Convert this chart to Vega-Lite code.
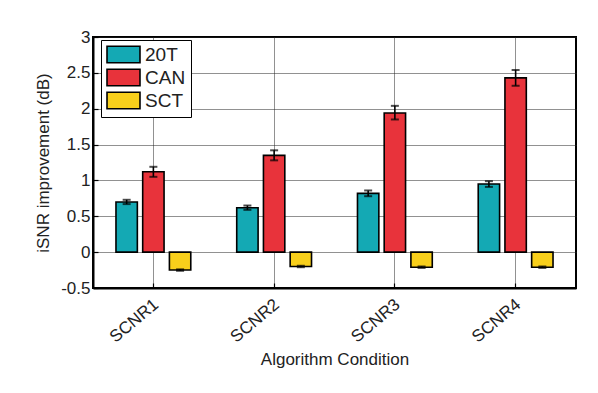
{
  "$schema": "https://vega.github.io/schema/vega-lite/v6.json",
  "autosize": "none",
  "width": 483,
  "height": 251,
  "padding": {"left": 93, "top": 37, "right": 22, "bottom": 105},
  "background": "white",
  "config": {
    "font": "Liberation Sans",
    "view": {"stroke": "black", "strokeWidth": 2},
    "axis": {
      "domainColor": "black",
      "domainWidth": 2,
      "tickColor": "black",
      "tickWidth": 1.2,
      "tickSize": -5,
      "gridColor": "#222",
      "gridWidth": 1,
      "gridOpacity": 1,
      "labelColor": "#222",
      "titleColor": "#222",
      "labelFont": "Liberation Sans",
      "titleFont": "Liberation Sans",
      "labelFontSize": 17,
      "titleFontSize": 17,
      "titleFontWeight": "normal"
    }
  },
  "data": {
    "values": [
      {"cond": "SCNR1", "alg": "20T", "mean": 0.70, "lo": 0.67, "hi": 0.73},
      {"cond": "SCNR1", "alg": "CAN", "mean": 1.12, "lo": 1.05, "hi": 1.19},
      {"cond": "SCNR1", "alg": "SCT", "mean": -0.25, "lo": -0.26, "hi": -0.24},
      {"cond": "SCNR2", "alg": "20T", "mean": 0.62, "lo": 0.59, "hi": 0.65},
      {"cond": "SCNR2", "alg": "CAN", "mean": 1.35, "lo": 1.28, "hi": 1.42},
      {"cond": "SCNR2", "alg": "SCT", "mean": -0.20, "lo": -0.21, "hi": -0.19},
      {"cond": "SCNR3", "alg": "20T", "mean": 0.82, "lo": 0.78, "hi": 0.86},
      {"cond": "SCNR3", "alg": "CAN", "mean": 1.94, "lo": 1.85, "hi": 2.04},
      {"cond": "SCNR3", "alg": "SCT", "mean": -0.21, "lo": -0.22, "hi": -0.20},
      {"cond": "SCNR4", "alg": "20T", "mean": 0.95, "lo": 0.91, "hi": 0.99},
      {"cond": "SCNR4", "alg": "CAN", "mean": 2.43, "lo": 2.32, "hi": 2.54},
      {"cond": "SCNR4", "alg": "SCT", "mean": -0.21, "lo": -0.22, "hi": -0.20}
    ]
  },
  "encoding": {
    "x": {
      "field": "cond",
      "type": "nominal",
      "scale": {"paddingInner": 0, "paddingOuter": 0},
      "axis": {
        "title": "Algorithm Condition",
        "labelAngle": -40,
        "labelAlign": "right",
        "labelBaseline": "middle",
        "labelPadding": 19,
        "labelOffset": 3,
        "titlePadding": 6,
        "grid": true,
        "gridDash": [1, 1]
      }
    },
    "xOffset": {
      "field": "alg",
      "type": "nominal",
      "scale": {"paddingInner": 0.2, "paddingOuter": 0.86}
    }
  },
  "layer": [
    {
      "mark": {"type": "bar", "stroke": "black", "strokeWidth": 1.6},
      "encoding": {
        "y": {
          "field": "mean",
          "type": "quantitative",
          "scale": {"domain": [-0.5, 3], "nice": false, "zero": false},
          "axis": {
            "title": "iSNR improvement (dB)",
            "values": [-0.5, 0, 0.5, 1, 1.5, 2, 2.5, 3],
            "tickCount": 10,
            "labelExpr": "toString(datum.value)",
            "labelOverlap": false,
            "labelPadding": 8,
            "titlePadding": 8,
            "grid": true,
            "gridDash": [1, 1]
          }
        },
        "fill": {
          "field": "alg",
          "type": "nominal",
          "scale": {"domain": ["20T", "CAN", "SCT"], "range": ["#14a9b4", "#e8333b", "#f8cf1b"]},
          "legend": {
            "title": null,
            "orient": "none",
            "legendX": 8,
            "legendY": 3,
            "strokeColor": "black",
            "fillColor": "white",
            "padding": 5,
            "symbolType": "M-2,-1H2V1H-2Z",
            "symbolSize": 272,
            "symbolOffset": 8,
            "symbolStrokeColor": "black",
            "symbolStrokeWidth": 1.6,
            "labelFontSize": 19,
            "labelColor": "#222",
            "labelOffset": 12,
            "rowPadding": 0
          }
        }
      }
    },
    {
      "mark": {"type": "rule", "color": "black", "strokeWidth": 1.6},
      "encoding": {
        "y": {"field": "lo", "type": "quantitative"},
        "y2": {"field": "hi"}
      }
    },
    {
      "mark": {"type": "tick", "color": "black", "thickness": 2, "size": 8, "orient": "horizontal"},
      "encoding": {"y": {"field": "lo", "type": "quantitative"}}
    },
    {
      "mark": {"type": "tick", "color": "black", "thickness": 2, "size": 8, "orient": "horizontal"},
      "encoding": {"y": {"field": "hi", "type": "quantitative"}}
    }
  ]
}
